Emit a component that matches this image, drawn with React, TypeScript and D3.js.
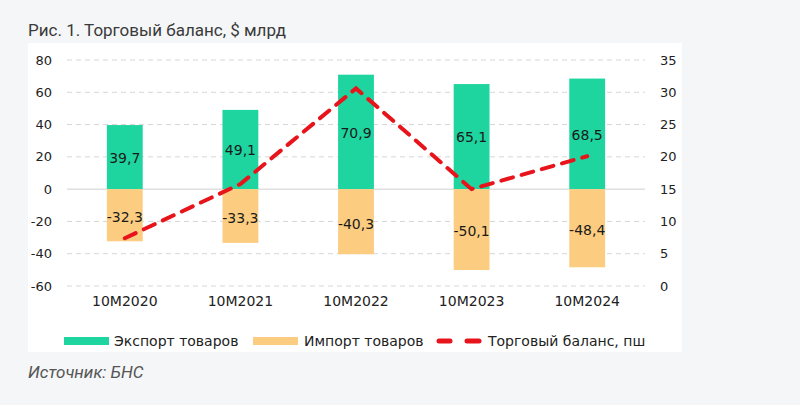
import * as d3 from "d3";

const categories = ["10M2020", "10M2021", "10M2022", "10M2023", "10M2024"];
const exportValues = [39.7, 49.1, 70.9, 65.1, 68.5];
const importValues = [-32.3, -33.3, -40.3, -50.1, -48.4];
const balanceValues = [7.4, 15.8, 30.6, 15.0, 20.1];
const leftTicks = [-60, -40, -20, 0, 20, 40, 60, 80];
const rightTicks = [0, 5, 10, 15, 20, 25, 30, 35];

const W = 800;
const H = 405;

export default function App() {
  const x = d3.scaleBand().domain(categories).range([67, 645]).paddingInner(0.69).paddingOuter(0.345);
  const yL = d3.scaleLinear().domain([-60, 80]).range([286, 60]);
  const yR = d3.scaleLinear().domain([0, 35]).range([286, 60]);
  const fmt = (v: number) => v.toFixed(1).replace(".", ",");
  const line = d3
    .line<number>()
    .x((_, i) => (x(categories[i]) ?? 0) + x.bandwidth() / 2)
    .y(d => yR(d));

  const labelFont = "DejaVu Sans, Verdana, sans-serif";

  return (
    <svg
      width={W}
      height={H}
      style={{ position: "absolute", left: 0, top: 0, background: "#f5f6f8" }}
    >
      <rect x={28} y={43} width={654} height={309} fill="#ffffff" />
      <text x={28} y={36} fontFamily="Roboto, sans-serif" fontSize={17} fill="#3a3a3a">
        Рис. 1. Торговый баланс, $ млрд
      </text>

      {leftTicks.map(t => (
        <line
          key={"g" + t}
          x1={67}
          x2={645}
          y1={yL(t)}
          y2={yL(t)}
          stroke={t === 0 ? "#cfcfcf" : "#d6d6d6"}
          strokeDasharray={t === 0 ? undefined : "5,4"}
        />
      ))}

      {leftTicks.map(t => (
        <text
          key={"l" + t}
          x={52}
          y={yL(t)}
          dy="0.35em"
          textAnchor="end"
          fontFamily={labelFont}
          fontSize={13}
          fill="#222"
        >
          {t}
        </text>
      ))}
      {rightTicks.map(t => (
        <text
          key={"r" + t}
          x={660}
          y={yR(t)}
          dy="0.35em"
          fontFamily={labelFont}
          fontSize={13}
          fill="#222"
        >
          {t}
        </text>
      ))}

      {categories.map((c, i) => (
        <g key={c}>
          <rect
            x={x(c)}
            y={yL(exportValues[i])}
            width={x.bandwidth()}
            height={yL(0) - yL(exportValues[i])}
            fill="#1ed59f"
          />
          <rect
            x={x(c)}
            y={yL(0)}
            width={x.bandwidth()}
            height={yL(importValues[i]) - yL(0)}
            fill="#fccd80"
          />
          <text
            x={(x(c) ?? 0) + x.bandwidth() / 2}
            y={(yL(exportValues[i]) + yL(0)) / 2 + 1}
            dy="0.35em"
            textAnchor="middle"
            fontFamily={labelFont}
            fontSize={14}
            fill="#1a1a1a"
          >
            {fmt(exportValues[i])}
          </text>
          <text
            x={(x(c) ?? 0) + x.bandwidth() / 2}
            y={(yL(importValues[i]) + yL(0)) / 2 + 2}
            dy="0.35em"
            textAnchor="middle"
            fontFamily={labelFont}
            fontSize={14}
            fill="#1a1a1a"
          >
            {fmt(importValues[i])}
          </text>
          <text
            x={(x(c) ?? 0) + x.bandwidth() / 2}
            y={306}
            textAnchor="middle"
            fontFamily={labelFont}
            fontSize={14}
            fill="#222"
          >
            {c}
          </text>
        </g>
      ))}

      <path
        d={line(balanceValues) ?? ""}
        fill="none"
        stroke="#e8141c"
        strokeWidth={4}
        strokeDasharray="12,9"
        strokeLinecap="round"
      />

      <g fontFamily={labelFont} fontSize={14} fill="#222">
        <rect x={64} y={337} width={45} height={8} fill="#1ed59f" />
        <text x={114} y={341} dy="0.35em">Экспорт товаров</text>
        <rect x={253} y={337} width={45} height={8} fill="#fccd80" />
        <text x={304} y={341} dy="0.35em">Импорт товаров</text>
        <line x1={439} x2={450} y1={341} y2={341} stroke="#e8141c" strokeWidth={5} strokeLinecap="round" />
        <line x1={467} x2={479} y1={341} y2={341} stroke="#e8141c" strokeWidth={5} strokeLinecap="round" />
        <text x={488} y={341} dy="0.35em">Торговый баланс, пш</text>
      </g>

      <text x={28} y={378} fontFamily="Roboto, sans-serif" fontStyle="italic" fontSize={17} fill="#555">
        Источник: БНС
      </text>
    </svg>
  );
}
